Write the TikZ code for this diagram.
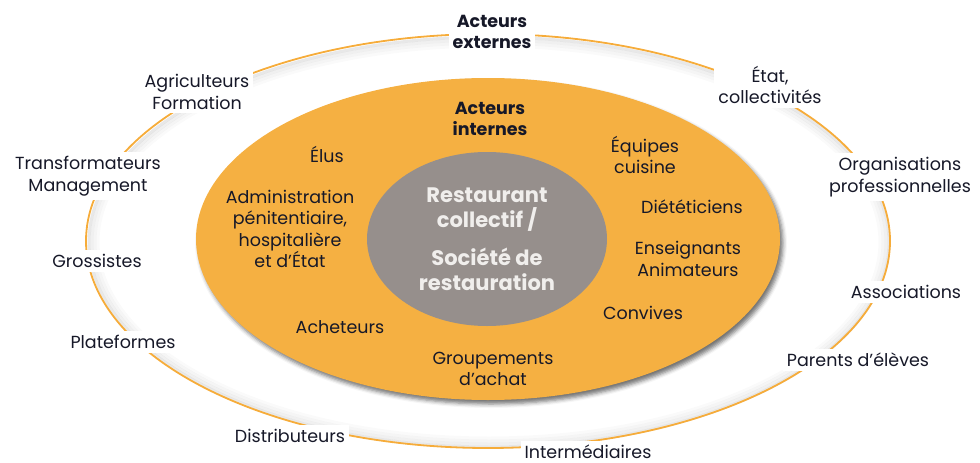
\documentclass[tikz,border=0pt]{standalone}
\usepackage{fontspec}
\setmainfont{Poppins}
\usetikzlibrary{shadows.blur}
\definecolor{orangefill}{RGB}{245,176,66}
\definecolor{orangeline}{RGB}{246,172,58}
\definecolor{grayfill}{RGB}{150,143,140}
\definecolor{txt}{RGB}{22,24,40}
\definecolor{ctxt}{RGB}{240,238,236}
\tikzset{
  lbl/.style={font=\fontsize{17.5}{21.5}\selectfont, text=txt, align=center, inner sep=2pt},
  ext/.style={lbl, fill=white, inner sep=4pt},
  hdr/.style={lbl, font=\fontsize{17.5}{21.5}\selectfont\bfseries},
}
\begin{document}
\begin{tikzpicture}[x=1pt,y=-1pt]
\useasboundingbox (0,0) rectangle (980,463);
% outer ring soft shadow
\foreach \d/\o in {2/0.09,5/0.06,8/0.04,11/0.02}{
  \draw[line width=3pt, black, opacity=\o] (489,242) ellipse [x radius={402pt-\d pt}, y radius={207pt-\d pt}];
}
\draw[line width=1.8pt, orangeline] (488,241) ellipse [x radius=402pt, y radius=207pt];
% orange ellipse
\fill[orangefill, blur shadow={shadow xshift=3pt, shadow yshift=-4pt, shadow blur radius=4pt, shadow opacity=55}] (488,239) ellipse [x radius=292pt, y radius=161pt];
% gray ellipse
\fill[grayfill] (487,239) ellipse [x radius=120pt, y radius=87pt];
\node[font=\fontsize{21}{24.5}\selectfont\bfseries, text=ctxt, align=center] (center) at (487,239) {Restaurant\\collectif /\\[14pt]Société de\\restauration};
% external labels
\node[ext, font=\fontsize{17.5}{21.5}\selectfont\bfseries] (ext) at (492,32) {Acteurs\\externes};
\node[ext] (agri) at (197,92) {Agriculteurs\\Formation};
\node[ext] (transf) at (88,176) {Transformateurs\\Management};
\node[ext] (gross) at (97,261) {Grossistes};
\node[ext] (plat) at (123,342) {Plateformes};
\node[ext] (distr) at (290,436) {Distributeurs};
\node[ext] (inter) at (588,452) {Intermédiaires};
\node[ext] (parents) at (858,360) {Parents d’élèves};
\node[ext] (assoc) at (906,292) {Associations};
\node[ext] (orga) at (900,177) {Organisations\\professionnelles};
\node[ext] (etat) at (770,85) {État,\\collectivités};
% internal labels
\node[hdr] (int) at (490,119) {Acteurs\\internes};
\node[lbl] (elus) at (327,154) {Élus};
\node[lbl] (admin) at (290,229) {Administration\\pénitentiaire,\\hospitalière\\et d’État};
\node[lbl] (achet) at (340,327) {Acheteurs};
\node[lbl] (group) at (493,369) {Groupements\\d’achat};
\node[lbl] (conv) at (643,313) {Convives};
\node[lbl] (ens) at (688,259) {Enseignants\\Animateurs};
\node[lbl] (diet) at (692,207) {Diététiciens};
\node[lbl] (equip) at (645,155) {Équipes\\cuisine};
\end{tikzpicture}
\end{document}
